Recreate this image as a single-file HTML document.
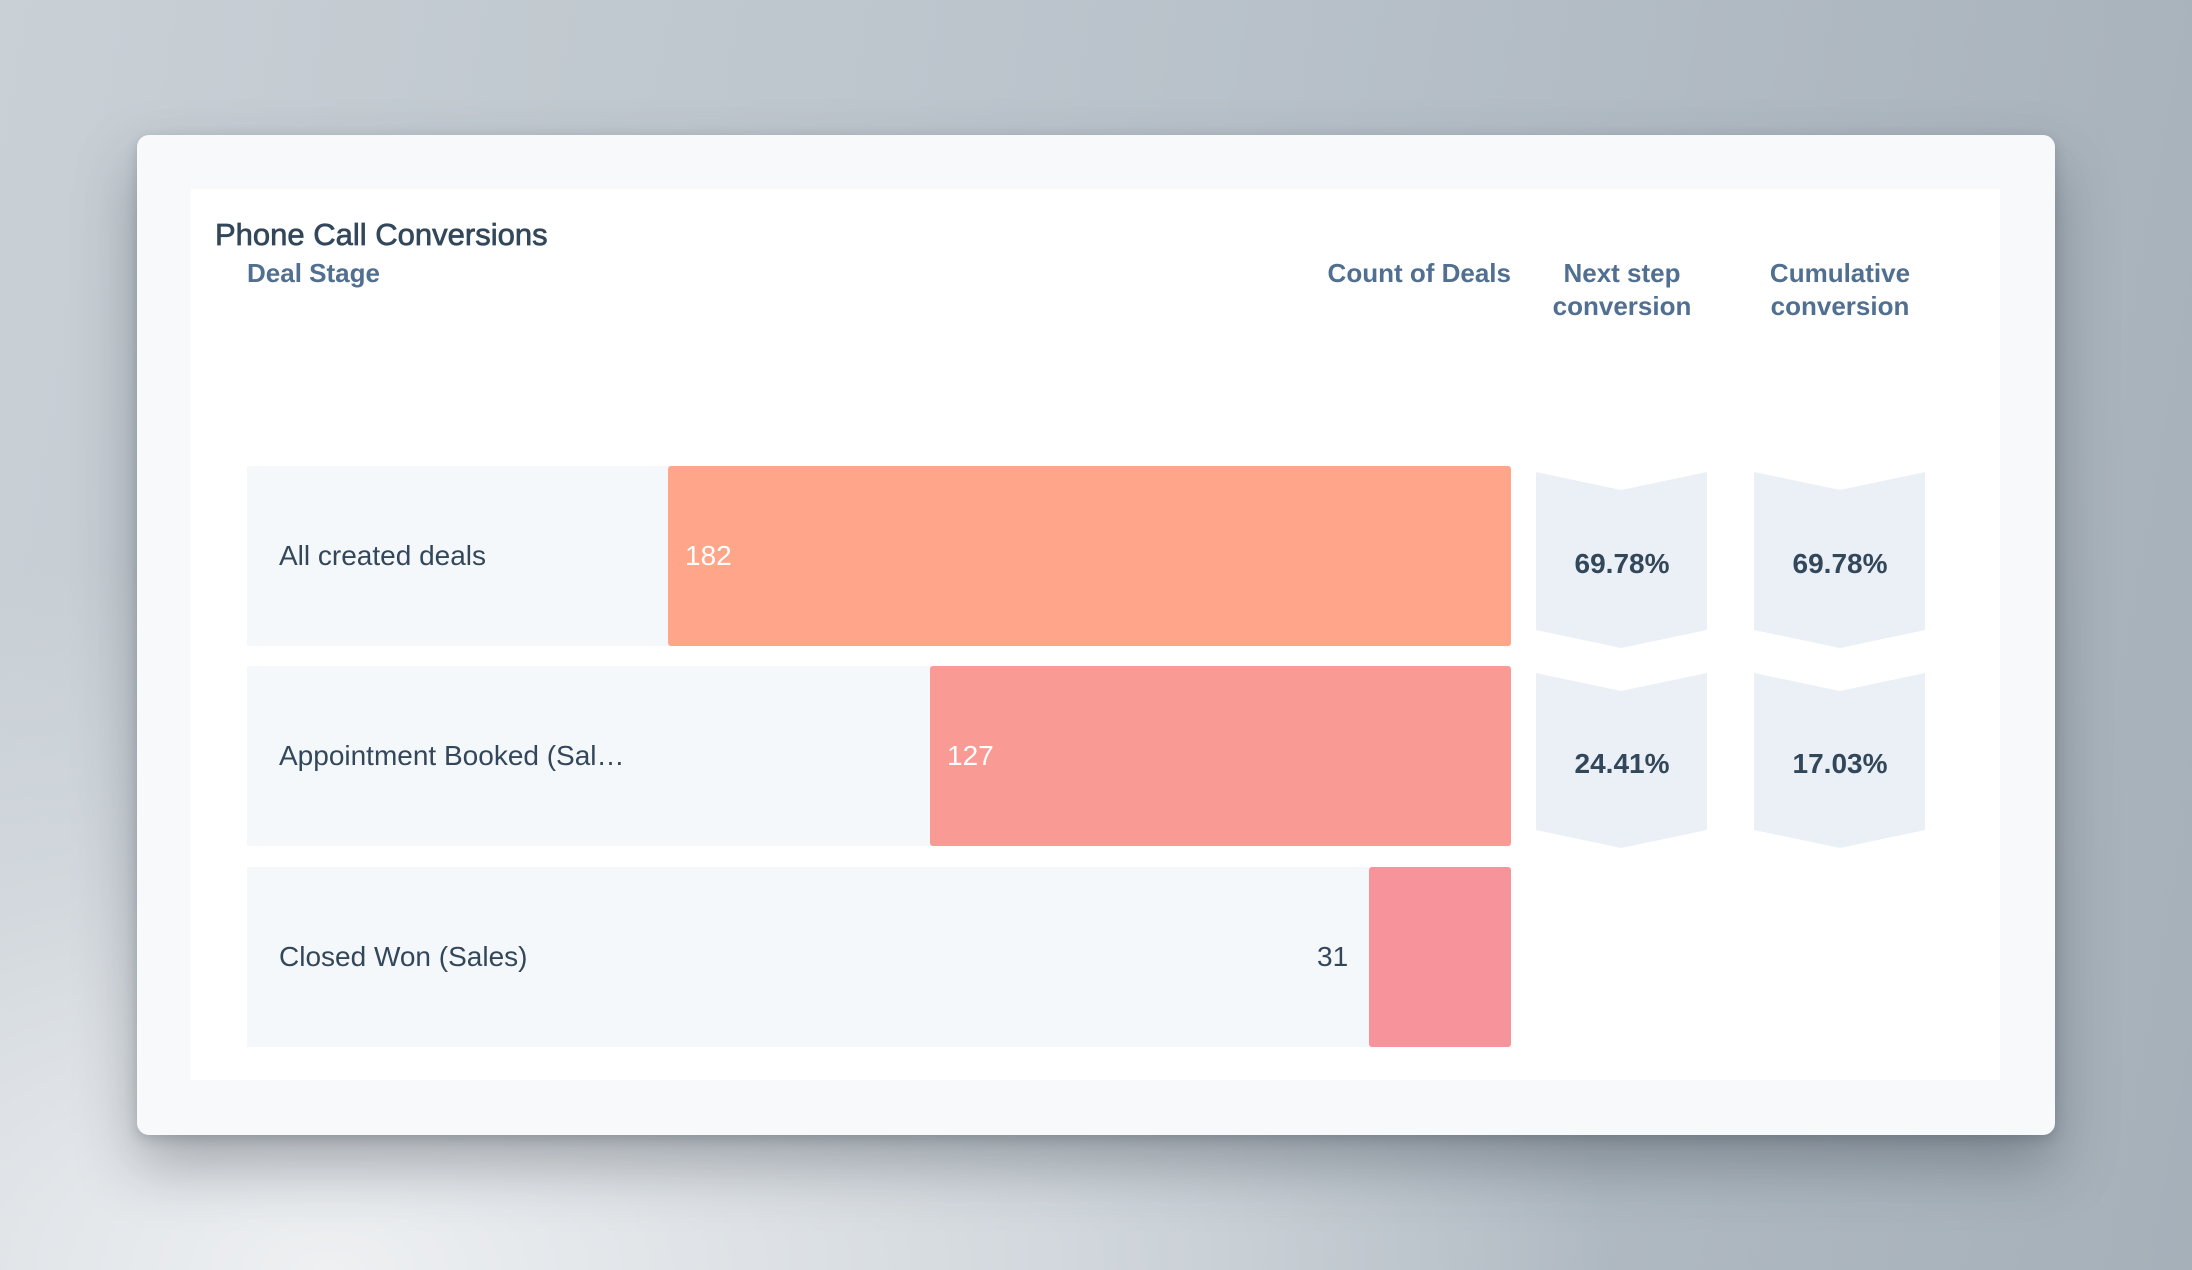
<!DOCTYPE html>
<html><head><style>
*{margin:0;padding:0;box-sizing:border-box}
body{width:2192px;height:1270px;overflow:hidden;position:relative;font-family:"Liberation Sans",sans-serif;
background:radial-gradient(ellipse 1600px 900px at 15% 100%,#eef0f2 0%,#d2d8dd 45%,rgba(170,180,188,0) 80%),linear-gradient(100deg,#c9d0d6 0%,#b9c2ca 50%,#a6b0b9 100%)}
.card{position:absolute;left:137px;top:135px;width:1918px;height:1000px;background:#f8f9fb;border-radius:12px;box-shadow:0 30px 60px rgba(40,50,60,.35),0 4px 12px rgba(40,50,60,.2)}
.panel{position:absolute;left:191px;top:189px;width:1809px;height:891px;background:#fff}
.t{position:absolute;white-space:nowrap}
.title{left:215px;top:217px;font-size:31px;color:#33475b;-webkit-text-stroke:0.7px #33475b}
.h{font-size:26px;color:#516f90;font-weight:bold;line-height:33px}
.row{position:absolute;left:247px;width:1264px;height:180px;background:#f5f8fa}
.bar{position:absolute;height:180px;border-radius:3px}
.lab{position:absolute;left:279px;font-size:28px;color:#33475b;line-height:180px}
.val{position:absolute;font-size:28px;line-height:180px;color:#fff}
.pct{font-size:28px;font-weight:bold;color:#33475b;text-align:center;width:172px;line-height:28px}
</style></head><body>
<div class="card"></div>
<div class="panel"></div>
<div class="t title">Phone Call Conversions</div>
<div class="t h" style="left:247px;top:257px">Deal Stage</div>
<div class="t h" style="left:1300px;width:211px;text-align:right;top:257px">Count of Deals</div>
<div class="t h" style="left:1522px;width:200px;text-align:center;top:257px">Next step<br>conversion</div>
<div class="t h" style="left:1740px;width:200px;text-align:center;top:257px">Cumulative<br>conversion</div>

<div class="row" style="top:466px"></div>
<div class="row" style="top:666px"></div>
<div class="row" style="top:867px"></div>
<div class="bar" style="left:668px;width:843px;top:466px;background:#fea58a"></div>
<div class="bar" style="left:930px;width:581px;top:666px;background:#f99a94"></div>
<div class="bar" style="left:1369px;width:142px;top:867px;background:#f7939a"></div>
<div class="lab" style="top:466px">All created deals</div>
<div class="lab" style="top:666px">Appointment Booked (Sal…</div>
<div class="lab" style="top:867px">Closed Won (Sales)</div>
<div class="val" style="left:685px;top:466px">182</div>
<div class="val" style="left:947px;top:666px">127</div>
<div class="val" style="left:1317px;top:867px;color:#33475b">31</div>

<svg style="position:absolute;left:0;top:0" width="2192" height="1270">
<g fill="#eaf0f6">
<polygon points="1536,472 1621,490 1707,472 1707,630 1621,648 1536,630"/>
<polygon points="1754,472 1840,490 1925,472 1925,630 1840,648 1754,630"/>
<polygon points="1536,673 1621,691 1707,673 1707,830 1621,848 1536,830"/>
<polygon points="1754,673 1840,691 1925,673 1925,830 1840,848 1754,830"/>
</g></svg>
<div class="t pct" style="left:1536px;top:550px">69.78%</div>
<div class="t pct" style="left:1754px;top:550px">69.78%</div>
<div class="t pct" style="left:1536px;top:750px">24.41%</div>
<div class="t pct" style="left:1754px;top:750px">17.03%</div>
</body></html>
